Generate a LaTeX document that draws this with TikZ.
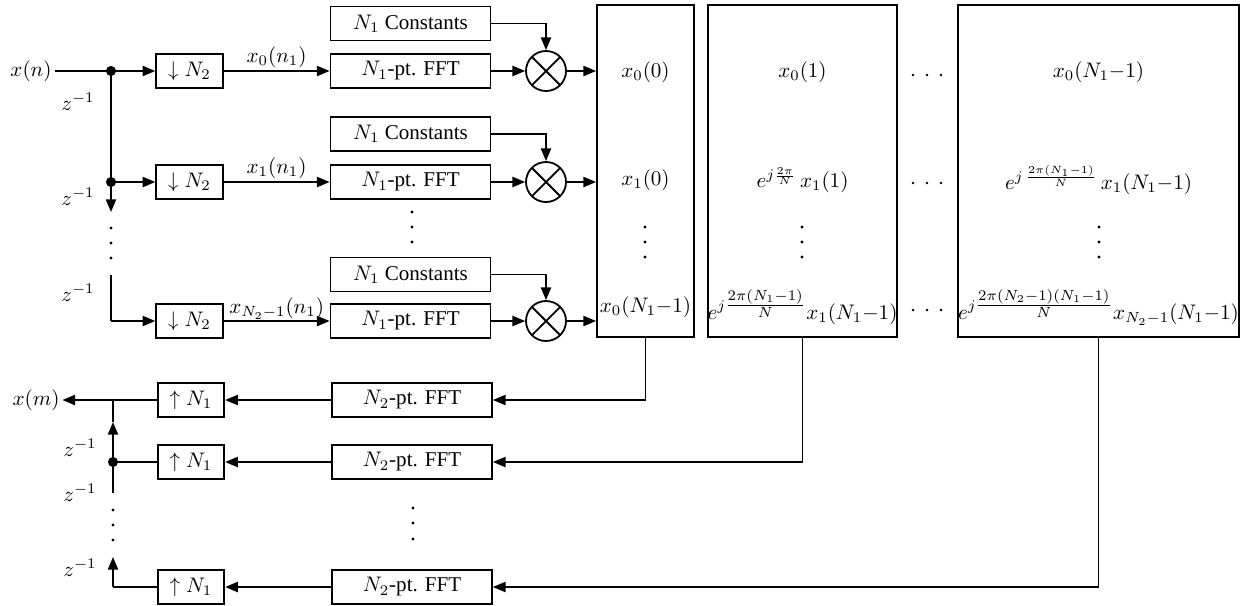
\documentclass[tikz,border=0pt]{standalone}
\usepackage{amsmath}
\usepackage[no-math]{fontspec}
\setmainfont{Liberation Serif}
\usetikzlibrary{arrows.meta}
\begin{document}
\begin{tikzpicture}[x=0.475pt,y=-0.475pt,line width=0.85pt,
  box/.style={draw,rectangle,inner sep=1pt,minimum height=16.2pt},
  smallbox/.style={box,minimum width=31.6pt},
  widebox/.style={box,minimum width=76pt},
  bigbox/.style={draw,rectangle,inner sep=0pt,minimum height=157.7pt},
  mult/.style={draw,circle,minimum size=19pt,inner sep=0pt,
    path picture={\draw (path picture bounding box.north west) -- (path picture bounding box.south east)
      (path picture bounding box.north east) -- (path picture bounding box.south west);}},
  arr/.style={-{Triangle[length=6pt,width=4.8pt]}},
  junc/.style={circle,fill,inner sep=0pt,minimum size=4.8pt},
  lbl/.style={inner sep=1pt}]
\useasboundingbox (0,0) rectangle (1241,605);

% ---------- input part ----------
\node[lbl] (xn) at (31,71) {$x(n)$};
\coordinate (D1) at (111,71);
\coordinate (D2) at (111,182);
\coordinate (C3) at (111,321);
\coordinate (D2e) at (111,212);
\coordinate (C3s) at (111,275);

\node[smallbox] (A1) at (189.5,71) {$\downarrow N_2$};
\node[smallbox] (A2) at (189.5,182) {$\downarrow N_2$};
\node[smallbox] (A3) at (189.5,321) {$\downarrow N_2$};

\node[widebox] (K1) at (410.5,23.5) {$N_1$ Constants};
\node[widebox] (F1) at (410.5,71) {$N_1$-pt. FFT};
\node[widebox] (K2) at (410.5,134) {$N_1$ Constants};
\node[widebox] (F2) at (410.5,182) {$N_1$-pt. FFT};
\node[widebox] (K3) at (410.5,274.5) {$N_1$ Constants};
\node[widebox] (F3) at (410.5,321) {$N_1$-pt. FFT};

\node[mult] (M1) at (546,71) {};
\node[mult] (M2) at (546,182) {};
\node[mult] (M3) at (546,321) {};

\node[bigbox,minimum width=46.1pt] (B1) at (645.5,171) {};
\node[bigbox,minimum width=89.8pt] (B2) at (802.5,171) {};
\node[bigbox,minimum width=133.5pt] (B3) at (1098.5,171) {};

\draw (xn.east) -- (D1);
\draw[arr] (D1) -- (A1.west);
\draw (D1) -- (D2);
\draw[arr] (D2) -- (A2.west);
\draw[arr] (D2) -- (D2e);
\draw (C3s) -- (C3);
\draw[arr] (C3) -- (A3.west);
\node[junc] at (D1) {};
\node[junc] at (D2) {};

\node[lbl] (z1) at (78,102) {$z^{-1}$};
\node[lbl] (z2) at (78,197) {$z^{-1}$};
\node[lbl] (z3) at (78,293) {$z^{-1}$};

\draw[arr] (A1.east) -- node[above,lbl] {$x_0(n_1)$} (F1.west);
\draw[arr] (A2.east) -- node[above,lbl] {$x_1(n_1)$} (F2.west);
\draw[arr] (A3.east) -- node[above,lbl,inner sep=0.5pt] {$x_{N_2-1}(n_1)$} (F3.west);

\foreach \k/\f/\m in {K1/F1/M1,K2/F2/M2,K3/F3/M3}{
  \draw[arr] (\k.east) -| (\m.north);
  \draw[arr] (\f.east) -- (\m.west);
  \draw[arr] (\m.east) -- (\m.east -| B1.west);
}

% vertical dots
\foreach \y in {228,243,258} { \fill (111,\y) circle (0.8pt); }
\foreach \y in {212,227,242} { \fill (412,\y) circle (0.8pt); }
\foreach \x in {645,802,1099} { \foreach \y in {227,242,257} { \fill (\x,\y) circle (0.8pt); } }
\foreach \y in {72,180,307} { \foreach \x in {913,927,941} { \fill (\x,\y+3) circle (0.7pt); } }

% texts in big boxes
\node[lbl] (T11) at (645.5,72) {$x_0(0)$};
\node[lbl] (T12) at (645.5,180) {$x_1(0)$};
\node[lbl] (T13) at (645.5,307) {$x_0(N_1{-}1)$};
\node[lbl] (T21) at (802.5,72) {$x_0(1)$};
\node[lbl] (T22) at (802.5,180) {$e^{j\frac{2\pi}{N}}\,x_1(1)$};
\node[lbl] (T23) at (802.5,307) {$e^{j\tfrac{2\pi(N_1-1)}{N}}x_1(N_1{-}1)$};
\node[lbl] (T31) at (1098.5,72) {$x_0(N_1{-}1)$};
\node[lbl] (T32) at (1098.5,180) {$e^{j\,\frac{2\pi(N_1-1)}{N}}\,x_1(N_1{-}1)$};
\node[lbl] (T33) at (1098.5,307) {$e^{j\tfrac{2\pi(N_2-1)(N_1-1)}{N}}x_{N_2-1}(N_1{-}1)$};

% ---------- output part ----------
\node[widebox] (G1) at (412,400) {$N_2$-pt. FFT};
\node[widebox] (G2) at (412,462) {$N_2$-pt. FFT};
\node[widebox] (G3) at (412,587) {$N_2$-pt. FFT};
\foreach \y in {508,523,539} { \fill (413,\y) circle (0.8pt); }

\node[smallbox] (U1) at (191,400) {$\uparrow N_1$};
\node[smallbox] (U2) at (191,462) {$\uparrow N_1$};
\node[smallbox] (U3) at (191,587) {$\uparrow N_1$};

\node[lbl] (xm) at (36,400) {$x(m)$};
\coordinate (J1) at (113,400);
\coordinate (J2) at (113,462);
\coordinate (J3) at (113,587);
\coordinate (J1a) at (113,422);
\coordinate (J2b) at (113,493);
\coordinate (J3a) at (113,557);

\draw[arr] (B1.south) |- (G1.east);
\draw[arr] (B2.south) |- (G2.east);
\draw[arr] (B3.south) |- (G3.east);

\draw[arr] (G1.west) -- (U1.east);
\draw[arr] (G2.west) -- (U2.east);
\draw[arr] (G3.west) -- (U3.east);

\draw[arr] (U1.west) -- (xm.east);
\draw (U2.west) -- (J2);
\draw[arr] (J2) -- (J1a);
\draw (J1a) -- (J1);
\draw (J2) -- (J2b);
\draw (U3.west) -- (J3);
\draw[arr] (J3) -- (J3a);
\node[junc] at (J2) {};
\foreach \y in {510,525,540} { \fill (113,\y) circle (0.8pt); }

\node[lbl] (z4) at (80,448) {$z^{-1}$};
\node[lbl] (z5) at (80,493) {$z^{-1}$};
\node[lbl] (z6) at (80,568) {$z^{-1}$};
\end{tikzpicture}
\end{document}
